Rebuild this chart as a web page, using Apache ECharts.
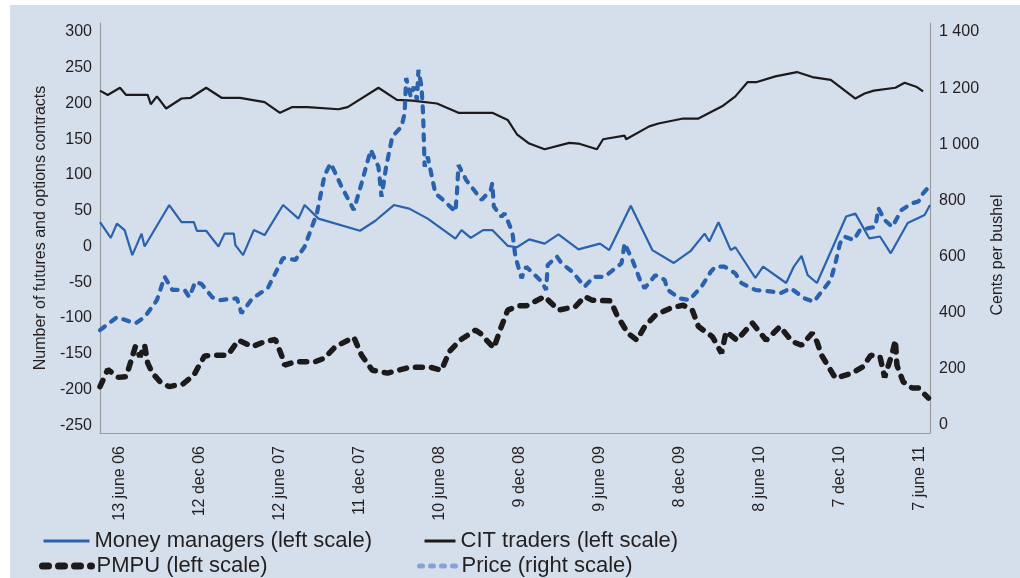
<!DOCTYPE html>
<html>
<head>
<meta charset="utf-8">
<script src="https://cdn.jsdelivr.net/npm/echarts@6/dist/echarts.min.js"></script>
<style>
html, body { margin: 0; padding: 0; background: #fff; }
#chart { width: 1020px; height: 578px; background: #d5dfec; box-shadow: inset 10px 5px 0 #fff; }
</style>
</head>
<body>
<div id="chart"></div>
<script>
// x is counted in weeks from 13 june 2006 (week 0), weekly reports
const labelWeeks = [0, 26, 52, 78, 104, 130, 156, 182, 208, 234, 260];
const dateLabels = ['13 june 06', '12 dec 06', '12 june 07', '11 dec 07', '10 june 08', '9 dec 08',
  '9 june 09', '8 dec 09', '8 june 10', '7 dec 10', '7 june 11'];
const leftTicks = [-250, -200, -150, -100, -50, 0, 50, 100, 150, 200, 250, 300];
const rightTicks = [0, 200, 400, 600, 800, 1000, 1200, 1400];

// Money managers (left scale)
const mmWeeks = [-6.5, -3, -1, 1.5, 4, 7, 8, 16, 20, 24, 25, 28, 32, 34, 37, 37.5, 40, 43.5, 47, 53, 58, 60, 64.5,
  78, 83, 89, 94, 100, 109, 111, 114, 118, 121, 126, 129, 133, 138, 142.5, 149, 156, 159, 166, 173, 180, 185.5,
  190, 191.5, 194.5, 198.5, 200, 206.5, 209, 216.5, 219, 221.5, 223.5, 226.5, 231.5, 236, 239, 243.5, 247,
  250.5, 256, 261.5, 263.25];
const mmValues = [34, 12, 32, 23, -12, 18, 0, 58, 34, 34, 22, 22, 0, 18, 18, 2, -12, 23, 16, 58, 39, 58, 39,
  22, 36, 58, 53, 39, 11, 23, 12, 23, 23, 1, -1, 10, 4, 17, -4, 4, -5, 57, -5, -23, -6,
  18, 7, 34, -5, -1, -44, -28, -51, -28, -13, -40, -51, -2.5, 42, 46, 11.5, 14,
  -9.5, 33, 44, 58];

// CIT traders (left scale)
const citWeeks = [-6.5, -4, 0, 2, 9, 10, 12, 15, 20, 23, 28, 33, 39, 47, 52, 56, 61, 71, 74, 84, 90, 95, 103,
  110, 121, 126, 129, 133, 138, 146, 149, 155, 157, 164, 164.5, 172, 175, 183, 188, 196, 200, 204, 207, 213,
  220, 225, 231, 239, 242, 245, 252, 255, 259, 261];
const citValues = [218, 212, 222, 212, 212, 199, 210, 193, 207, 208, 222, 208, 208, 202, 187, 195, 195, 192, 195, 222, 205, 204, 200,
  187, 187, 177, 157, 144, 136, 145, 144, 136, 150, 155, 150, 168, 172, 179, 179, 197, 210, 230, 230, 238,
  244, 237, 233, 207, 214, 218, 222, 229, 223, 217];

// PMPU (left scale)
const pmpuWeeks = [-6.5, -4, -0.5, 2, 5, 6.5, 8, 9, 10.5, 13, 16, 20.5, 24, 25.5, 27.5, 31, 35, 38.5, 43, 47, 50.5,
  52.5, 53.5, 57, 63.5, 66.5, 70, 76, 78.5, 82, 87, 94, 101, 104.5, 107, 110.5, 115.5, 117, 121.5, 123.5, 126,
  129.5, 132, 138, 142.5, 148, 151, 153.5, 159.5, 161.5, 165, 168, 170.5, 174, 179, 183, 186, 188, 192.5,
  195.5, 197, 200.5, 205.5, 210, 214.5, 218.5, 221.5, 225, 226.5, 228, 232.5, 238, 241.5, 244, 247, 248.5,
  251, 252, 252.5, 254.5, 257.5, 259.5, 262.75];
const pmpuValues = [-196, -172, -183, -182, -140, -154, -138, -163, -177, -189, -196, -192, -180, -168, -153, -152, -152, -131, -140, -133, -130,
  -152, -166, -161, -161, -156, -140, -127, -152, -173, -177, -169, -169, -173, -147, -131, -117, -121, -142, -117, -89,
  -83, -83, -70, -89, -84, -70, -75, -76, -96, -121, -131, -112, -96, -86, -82, -89, -112, -126,
  -149, -119, -131, -107, -131, -112, -133, -138, -121, -133, -152, -184, -177, -168, -152, -154, -183,
  -149, -131, -166, -189, -198, -198, -212];

// Price (right scale), cents per bushel
const priceWeeks = [-6.5, -1, 5, 8, 12, 14.5, 17, 21, 22.5, 24.5, 26.5, 30, 32.5, 38, 39.5, 43, 48, 53, 57, 60, 64,
  66.5, 68.5, 72, 76, 78.5, 81.5, 84, 85, 86.5, 88.5, 91.5, 92.5, 93, 94.5, 95.5, 96.5, 97, 98, 98.5, 99, 100,
  102.5, 105, 109, 109.5, 110, 112.5, 117.5, 120.5, 121, 121.5, 124, 125, 127.5, 128.5, 130.5, 132, 137, 138.5,
  139, 142, 143.5, 147, 151, 154, 157.5, 163, 164, 166.5, 169, 170.5, 174, 177, 178, 182, 185, 189, 192,
  193.5, 196.5, 200, 202, 206.5, 212, 214.5, 218, 222.5, 225.5, 228, 231, 232.5, 234, 235.5, 238.5, 240.5,
  245.5, 246.5, 248.5, 251, 254, 257.5, 259.5, 261, 263.25];
const priceValues = [338, 384, 362, 384, 445, 528, 481, 481, 456, 510, 502, 455, 445, 451, 398, 451, 487, 595, 588, 635, 754,
  891, 932, 849, 766, 861, 980, 920, 813, 920, 1027, 1063, 1110, 1236, 1170, 1205, 1158, 1265, 1205, 1110, 920, 956,
  825, 802, 760, 825, 926, 873, 802, 837, 861, 778, 742, 754, 688, 600, 523, 564, 511, 481,
  570, 600, 576, 546, 493, 528, 528, 576, 647, 588, 517, 487, 534, 517, 481, 451, 445, 493, 546,
  564, 564, 540, 505, 481, 475, 469, 487, 451, 439, 475, 517, 576, 647, 671, 659, 695,
  706, 772, 730, 706, 766, 790, 796, 825, 853];

const zip = (xs, ys) => xs.map((x, i) => [x, ys[i]]);

const ink = '#231f20';
const black = '#1c1a1a';
const blue = '#2a62ad';
const axisGray = '#9b9b9b';
const font = 'Liberation Sans, Arial, Helvetica, sans-serif';

// one legend box per entry, laid out as the two-by-two key under the chart
function key(name, left, top, width, lineStyle) {
  return {
    left: left, top: top, padding: 0, itemWidth: width, itemHeight: 14,
    itemStyle: { opacity: 0 },
    lineStyle: lineStyle,
    textStyle: { fontSize: 22, color: ink, fontFamily: font },
    data: [name]
  };
}

const chart = echarts.init(document.getElementById('chart'));
chart.setOption({
  animation: false,
  textStyle: { fontFamily: font, color: ink },
  grid: { left: 100, right: 90, top: 23, bottom: 145 },
  legend: [
    key('Money managers (left scale)', 42, 530, 46, { width: 3, color: blue }),
    key('PMPU (left scale)', 39, 555, 49, { width: 7, color: black, type: [6, 10], cap: 'round' }),
    key('CIT traders (left scale)', 423, 530, 31, { width: 3, color: black }),
    key('Price (right scale)', 417, 555, 37, { width: 5, color: '#86a3d4', type: [3, 8], cap: 'round' })
  ],
  xAxis: {
    type: 'value',
    min: -6.5,
    max: 263.25,
    splitLine: { show: false },
    axisTick: { show: false },
    axisLine: { onZero: false, lineStyle: { color: axisGray, width: 1.2 } },
    axisLabel: {
      customValues: labelWeeks,
      rotate: 90,
      margin: 13,
      fontSize: 16,
      color: ink,
      formatter: v => dateLabels[labelWeeks.indexOf(Math.round(v))]
    }
  },
  yAxis: [
    {
      type: 'value',
      position: 'left',
      min: -260.8,
      max: 312.6,
      name: 'Number of futures and options contracts',
      nameLocation: 'middle',
      nameRotate: 90,
      nameGap: 50,
      nameTextStyle: { fontSize: 16, color: ink },
      splitLine: { show: false },
      axisTick: { show: false },
      axisLine: { show: true, onZero: false, lineStyle: { color: axisGray, width: 1.2 } },
      axisLabel: { customValues: leftTicks, fontSize: 16, color: ink, margin: 8 }
    },
    {
      type: 'value',
      position: 'right',
      min: -28.5,
      max: 1432,
      name: 'Cents per bushel',
      nameLocation: 'middle',
      nameRotate: 90,
      nameGap: 41,
      nameTextStyle: { fontSize: 16, color: ink, padding: [0, 54, 0, 0] },
      splitLine: { show: false },
      axisTick: { show: false },
      axisLine: { show: true, onZero: false, lineStyle: { color: axisGray, width: 1.2 } },
      axisLabel: {
        customValues: rightTicks, fontSize: 16, color: ink, margin: 9,
        formatter: v => v >= 1000 ? Math.floor(v / 1000) + ' ' + String(v % 1000).padStart(3, '0') : String(v)
      }
    }
  ],
  series: [
    {
      name: 'Money managers (left scale)', type: 'line', yAxisIndex: 0, symbol: 'none',
      data: zip(mmWeeks, mmValues),
      lineStyle: { color: blue, width: 2.2 }, itemStyle: { color: blue }
    },
    {
      name: 'CIT traders (left scale)', type: 'line', yAxisIndex: 0, symbol: 'none',
      data: zip(citWeeks, citValues),
      lineStyle: { color: black, width: 2.2 }, itemStyle: { color: black }
    },
    {
      name: 'PMPU (left scale)', type: 'line', yAxisIndex: 0, symbol: 'none',
      data: zip(pmpuWeeks, pmpuValues),
      lineStyle: { color: black, width: 5.5, type: [7, 9], cap: 'round' }, itemStyle: { color: black }
    },
    {
      name: 'Price (right scale)', type: 'line', yAxisIndex: 1, symbol: 'none',
      data: zip(priceWeeks, priceValues),
      lineStyle: { color: blue, width: 4.2, type: [6, 8], cap: 'round' }, itemStyle: { color: blue }
    }
  ]
});
</script>
</body>
</html>
